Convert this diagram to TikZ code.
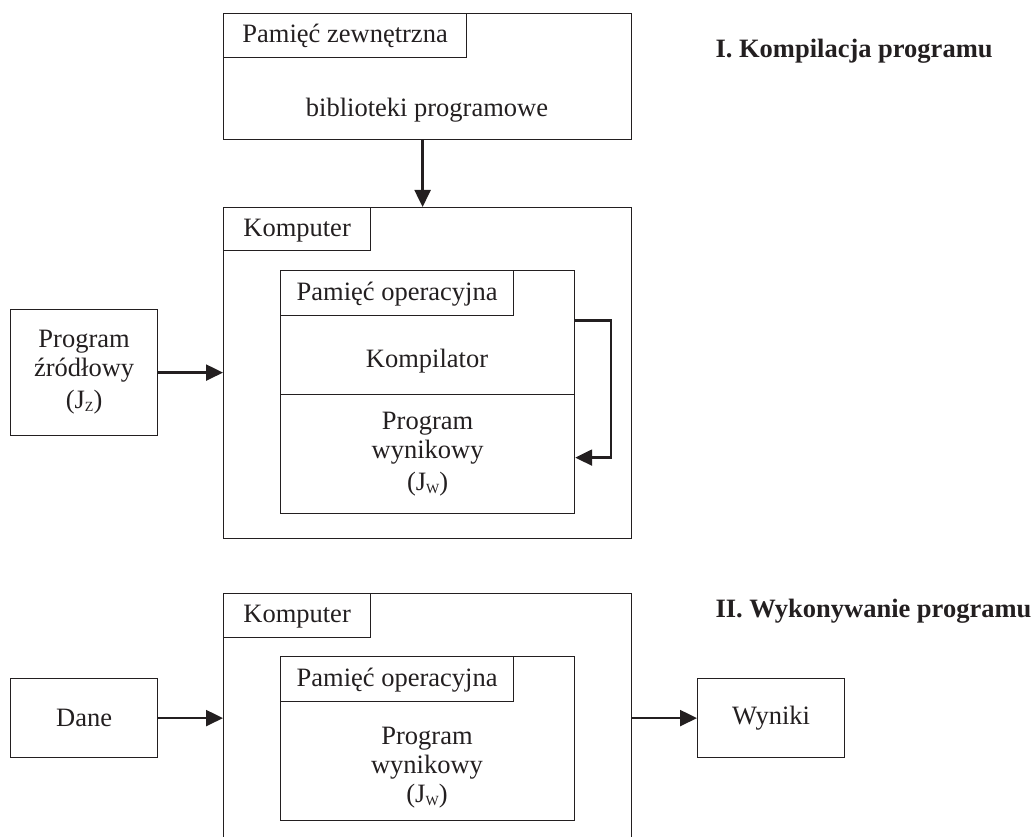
\documentclass[tikz,border=0pt]{standalone}
\usepackage{fontspec}
\setmainfont{Liberation Serif}
\usetikzlibrary{arrows.meta}
\definecolor{ink}{RGB}{35,31,32}
% small lowered index letter, as in J_Z and J_W
\newcommand\subidx[1]{\raisebox{-3pt}{\fontsize{14}{14}\selectfont #1}}

\begin{document}
\begin{tikzpicture}[x=1pt,y=-1pt,
  every node/.style={font=\fontsize{26.5}{29}\selectfont, text=ink},
  frame/.style={draw=ink, line width=1.2pt, rectangle, inner sep=0pt, anchor=north west},
  tag/.style={frame, text height=19pt, text depth=5pt},
  arr/.style={draw=ink, line width=2.3pt, -{Triangle[length=17pt,width=16pt]}},
  title/.style={anchor=base west, font=\fontsize{26.5}{29}\selectfont\bfseries},
  lbl/.style={anchor=base, align=center}]

\useasboundingbox (0,0) rectangle (1031,837);
\clip (0,0) rectangle (1031,837);

% ---------- I. compilation ----------
\node[frame, minimum width=408pt, minimum height=126pt] (ext) at (223,13) {};
\node[tag, minimum width=243pt, minimum height=44pt] (extlab) at (223,13) {Pamięć zewnętrzna};
\node[lbl] (lib) at (427,117) {biblioteki programowe};

\node[frame, minimum width=408pt, minimum height=331pt] (komp1) at (223,207) {};
\node[tag, minimum width=147pt, minimum height=43pt] (komp1lab) at (223,207) {Komputer};
\node[frame, minimum width=294pt, minimum height=124pt] (mem1) at (280,270) {};
\node[tag, minimum width=233pt, minimum height=45pt] (mem1lab) at (280,270) {Pamięć operacyjna};
\node[lbl] (kompilator) at (427,367) {Kompilator};
\node[frame, minimum width=294pt, minimum height=119pt, align=center] (wyn1) at (280,394)
  {Program\\wynikowy\\[3pt](J\subidx{W})};

\node[frame, minimum width=147pt, minimum height=126pt, align=center] (src) at (10,309)
  {Program\\źródłowy\\[3pt](J\subidx{Z})};

\draw[arr] ([xshift=-5pt]ext.south) -- ([xshift=-5pt]ext.south |- komp1.north);
\draw[arr] (src.east) -- (src.east -| komp1.west);
\draw[arr] ([yshift=12pt]mem1.east) -- ++(36,0) |- ([yshift=-3.5pt]wyn1.east);

\node[title] (t1) at (712,58) {I. Kompilacja programu};

% ---------- II. execution ----------
\node[frame, minimum width=408pt, minimum height=280pt] (komp2) at (223,593) {};
\node[tag, minimum width=147pt, minimum height=44pt] (komp2lab) at (223,593) {Komputer};
\node[frame, minimum width=294pt, minimum height=164pt] (mem2) at (280,656) {};
\node[tag, minimum width=233pt, minimum height=45pt] (mem2lab) at (280,656) {Pamięć operacyjna};
\node[align=center] (wyn2) at (427,768) {Program\\wynikowy\\(J\subidx{W})};

\node[frame, minimum width=147pt, minimum height=79pt] (dane) at (10,678) {Dane};
\node[frame, minimum width=147pt, minimum height=79pt] (wyniki) at (697,678) {Wyniki};

\draw[arr] (dane.east) -- (dane.east -| komp2.west);
\draw[arr] (komp2.east |- wyniki.west) -- (wyniki.west);

\node[title] (t2) at (712,617) {II. Wykonywanie programu};
\end{tikzpicture}
\end{document}
